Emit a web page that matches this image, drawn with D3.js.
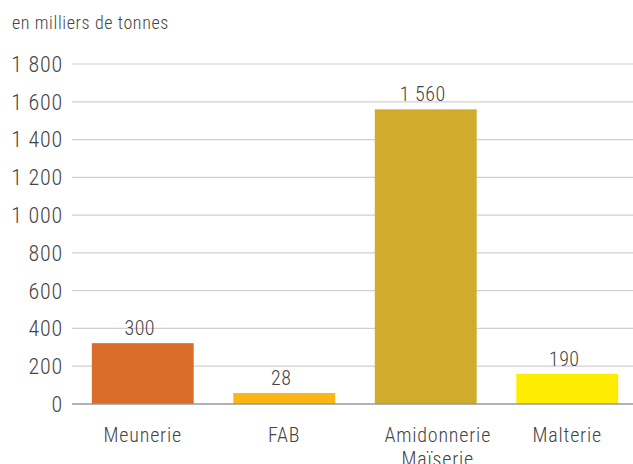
<!DOCTYPE html>
<html>
<head>
<meta charset="utf-8">
<script src="https://cdn.jsdelivr.net/npm/d3@7"></script>
<style>
    body { margin: 0; background: #fff; }
    text { font-family: "Roboto Condensed", "Roboto", sans-serif; font-weight: 300; fill: #444; }
</style>
</head>
<body>
<div id="chart"></div>
<script>
// data
const categories = ["Meunerie", "FAB", "Amidonnerie Maïserie", "Malterie"];
const barValues = [322, 58, 1560, 160];       // drawn heights
const valueLabels = ["300", "28", "1 560", "190"];
const barColors = ["#d96d29", "#fbb615", "#d1ac2c", "#ffed00"];
const yTicks = [0, 200, 400, 600, 800, 1000, 1200, 1400, 1600, 1800];
const unitLabel = "en milliers de tonnes";

const width = 633, height = 464;

let svg = d3.select("#chart").append("svg")
    .attr("width", width)
    .attr("height", height);

// Scales
let x = d3.scaleBand()
    .domain(categories)
    .range([72, 638])
    .paddingInner(0.28)
    .paddingOuter(0.14);

let y = d3.scaleLinear()
    .domain([0, 1800])
    .range([404, 64]);

let fmt = d => d3.format(",")(d).replace(/,/g, " ");

// Gridlines
svg.append("g")
    .selectAll("line")
    .data(yTicks.filter(d => d > 0))
    .enter().append("line")
    .attr("x1", 72)
    .attr("x2", width)
    .attr("y1", d => y(d))
    .attr("y2", d => y(d))
    .attr("stroke", "#d0d0d0")
    .attr("stroke-width", 1.2);

// Y tick labels
svg.append("g")
    .selectAll("text")
    .data(yTicks)
    .enter().append("text")
    .attr("x", 63)
    .attr("y", d => y(d))
    .attr("dy", "0.36em")
    .attr("text-anchor", "end")
    .style("font-size", "22px")
    .style("letter-spacing", "0.8px")
    .text(fmt);

// Bars
svg.append("g")
    .selectAll("rect")
    .data(barValues)
    .enter().append("rect")
    .attr("x", (d, i) => x(categories[i]))
    .attr("y", d => y(d))
    .attr("width", x.bandwidth())
    .attr("height", d => y(0) - y(d))
    .attr("fill", (d, i) => barColors[i]);

// Baseline
svg.append("line")
    .attr("x1", 72)
    .attr("x2", width)
    .attr("y1", y(0))
    .attr("y2", y(0))
    .attr("stroke", "#999")
    .attr("stroke-width", 1.5);

// Value labels
svg.append("g")
    .selectAll("text")
    .data(barValues)
    .enter().append("text")
    .attr("x", (d, i) => x(categories[i]) + x.bandwidth() / 2 - 3)
    .attr("y", d => y(d) - 8)
    .attr("text-anchor", "middle")
    .style("font-size", "20px")
    .style("letter-spacing", "0.5px")
    .text((d, i) => valueLabels[i]);

// Category labels (split into lines)
let cat = svg.append("g")
    .selectAll("text")
    .data(categories)
    .enter().append("text")
    .attr("y", 442)
    .attr("text-anchor", "middle")
    .style("font-size", "20px")
    .style("letter-spacing", "0.8px");

cat.each(function (d) {
    let t = d3.select(this);
    let cx = x(d) + x.bandwidth() / 2;
    let words = d.split(" ");
    // the two-line label sits a little right of its bar
    if (words.length > 1) cx += 12;
    words.forEach((w, i) => {
        t.append("tspan")
            .attr("x", cx)
            .attr("dy", i === 0 ? 0 : 24)
            .text(w);
    });
});

// Unit title
svg.append("text")
    .attr("x", 12)
    .attr("y", 29)
    .style("font-size", "18px")
    .style("letter-spacing", "0.6px")
    .text(unitLabel);
</script>
</body>
</html>
